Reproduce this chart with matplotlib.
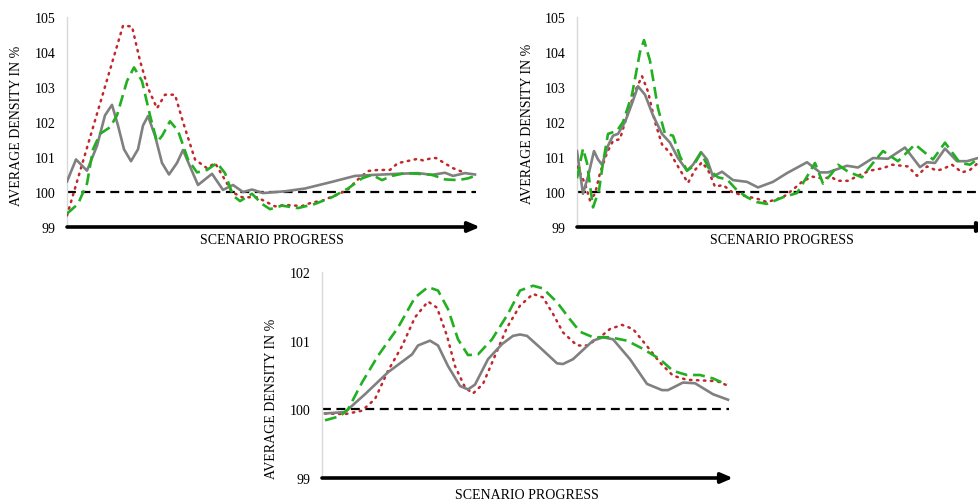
import matplotlib
matplotlib.use("Agg")
import matplotlib.pyplot as plt

plt.rcParams['font.family'] = ['Liberation Serif', 'DejaVu Serif']

# ---------------- data: panel A (top-left) ----------------
a_gray_x = [0, 9, 20, 30, 38, 45, 51, 57, 64, 71, 76, 81, 88, 95, 102, 110, 116, 123, 131, 145, 156, 166, 176, 185, 196,
            218, 238, 265, 288, 308, 331, 351, 365, 378, 386, 398, 408]
a_gray_y = [100.30, 100.93, 100.61, 101.32, 102.19, 102.49, 101.90, 101.22, 100.88, 101.22, 101.90, 102.17, 101.61, 100.83,
            100.50, 100.83, 101.20, 100.73, 100.20, 100.52, 100.06, 100.20, 100.00, 100.07, 99.97,
            100.02, 100.10, 100.29, 100.46, 100.49, 100.52, 100.54, 100.49, 100.55, 100.46, 100.54, 100.50]

a_green_x = [0, 11, 20, 26, 33, 43, 50, 60, 67, 75, 83, 90, 95, 103, 111, 121, 130, 140, 150, 158, 166, 173, 185, 195, 203,
             215, 231, 248, 265, 281, 295, 305, 315, 325, 338, 351, 365, 378, 391, 401, 408]
a_green_y = [99.38, 99.66, 100.24, 101.22, 101.66, 101.85, 102.19, 103.17, 103.56, 103.17, 102.19, 101.43, 101.60, 102.02,
             101.75, 100.93, 100.56, 100.63, 100.83, 100.54, 99.90, 99.74, 99.95, 99.66, 99.51,
             99.61, 99.54, 99.66, 99.85, 100.10, 100.39, 100.49, 100.34, 100.46, 100.54, 100.52, 100.49, 100.36, 100.34,
             100.39, 100.46]

a_red_x = [0, 56, 65, 73, 81, 90, 98, 108, 116, 128, 140, 148, 156, 165, 175, 190, 208, 218, 235, 245, 255, 268, 280,
           291, 301, 311, 323, 331, 335, 351, 356, 365, 369, 386, 395]
a_red_y = [99.33, 104.75, 104.73, 103.75, 102.97, 102.39, 102.78, 102.78, 102.00, 100.93, 100.68, 100.83, 100.44, 100.00,
           99.85, 99.85, 99.59, 99.63, 99.60, 99.70, 99.75, 99.90, 100.05, 100.36, 100.60, 100.63, 100.63, 100.83,
           100.85, 100.95, 100.90, 100.97, 100.97, 100.68, 100.58]

# ---------------- data: panel B (top-right) ----------------
b_gray_x = [0, 6, 11, 17, 21, 25, 31, 36, 41, 48, 55, 61, 68, 76, 85, 93, 101, 110, 116, 124, 130, 136, 145, 156, 170,
            181, 196, 210, 230, 243, 251, 270, 281, 296, 311, 328, 343, 350, 358, 368, 380, 390, 401, 410]
b_gray_y = [101.17, 99.95, 100.44, 101.17, 100.93, 100.78, 101.32, 101.61, 101.66, 102.00, 102.53, 103.02, 102.78, 102.19,
            101.66, 101.41, 100.97, 100.61, 100.78, 101.14, 100.93, 100.44, 100.58, 100.34, 100.29,
            100.13, 100.29, 100.54, 100.85, 100.56, 100.56, 100.75, 100.70, 100.97, 100.95, 101.27, 100.71, 100.85,
            100.83, 101.24, 100.88, 100.88, 100.97, 101.00]

b_green_x = [0, 6, 10, 16, 22, 26, 31, 40, 46, 55, 63, 67, 73, 81, 88, 96, 103, 110, 116, 124, 133, 141, 150, 160, 170,
             180, 190, 206, 220, 230, 238, 246, 255, 261, 271, 285, 296, 306, 321, 338, 356, 368, 383, 393, 401, 410]
b_green_y = [100.39, 101.24, 100.83, 99.56, 100.05, 100.83, 101.66, 101.75, 102.00, 102.78, 104.00, 104.34, 103.75, 102.39,
             101.66, 101.61, 101.02, 100.61, 100.73, 101.12, 100.61, 100.42, 100.36, 100.05, 99.85,
             99.71, 99.66, 99.85, 99.97, 100.44, 100.83, 100.24, 100.54, 100.78, 100.58, 100.42, 100.83, 101.17,
             100.88, 101.36, 100.93, 101.41, 100.83, 100.78, 100.95, 101.00]

b_red_x = [0, 8, 13, 18, 23, 30, 36, 43, 50, 58, 65, 71, 78, 85, 93, 103, 111, 118, 125, 131, 138, 146, 155, 166, 181,
           190, 206, 216, 225, 235, 245, 255, 260, 271, 283, 293, 306, 315, 331, 340, 350, 360, 366, 375, 385, 393, 401, 410]
b_red_y = [100.73, 100.24, 99.76, 99.95, 100.54, 101.12, 101.46, 101.51, 102.19, 102.87, 103.31, 102.87, 102.00, 101.36,
           101.12, 100.63, 100.26, 100.63, 100.85, 100.63, 100.15, 100.20, 100.00, 99.90, 99.80,
           99.71, 99.85, 100.07, 100.29, 100.44, 100.39, 100.42, 100.32, 100.32, 100.49, 100.61, 100.68, 100.78,
           100.73, 100.46, 100.73, 100.61, 100.66, 100.78, 100.56, 100.63, 100.83, 100.85]

# ---------------- data: panel C (bottom) ----------------
c_gray_x = [3, 23, 43, 66, 90, 96, 108, 116, 126, 138, 146, 153, 166, 180, 191, 198, 205, 218, 235, 241, 251, 271, 281,
            291, 308, 325, 340, 346, 361, 373, 391, 406]
c_gray_y = [99.94, 99.96, 100.22, 100.54, 100.80, 100.93, 101.00, 100.93, 100.63, 100.34, 100.29, 100.36, 100.73, 100.95,
            101.07, 101.09, 101.07, 100.90, 100.67, 100.66, 100.73, 101.00, 101.05, 101.02, 100.73, 100.37, 100.28,
            100.28, 100.39, 100.38, 100.22, 100.14]

c_green_x = [3, 18, 26, 40, 56, 76, 93, 106, 116, 126, 136, 146, 156, 170, 186, 198, 211, 221, 235, 248, 258, 271, 288,
             305, 321, 338, 351, 365, 378, 391, 405]
c_green_y = [99.84, 99.90, 100.00, 100.39, 100.78, 101.19, 101.63, 101.78, 101.73, 101.46, 101.02, 100.79, 100.80, 101.02,
             101.39, 101.73, 101.80, 101.76, 101.56, 101.31, 101.13, 101.05, 101.05, 101.00, 100.88, 100.73, 100.56,
             100.50, 100.50, 100.45, 100.36]

c_red_x = [3, 23, 40, 53, 66, 80, 93, 106, 115, 125, 133, 143, 151, 161, 173, 185, 198, 211, 221, 231, 241, 255, 265,
           278, 288, 300, 311, 325, 338, 351, 365, 381, 395, 405]
c_red_y = [99.94, 99.93, 99.98, 100.15, 100.56, 100.92, 101.34, 101.57, 101.48, 101.07, 100.63, 100.32, 100.23, 100.37,
           100.78, 101.19, 101.51, 101.68, 101.63, 101.39, 101.12, 100.93, 100.93, 101.05, 101.17, 101.23, 101.17,
           100.92, 100.68, 100.49, 100.43, 100.42, 100.41, 100.35]

yticks_top = [99, 100, 101, 102, 103, 104, 105]
yticks_bottom = [99, 100, 101, 102]
baseline = 100

GRAY = '#808080'
GREEN = '#22b022'
RED = '#c0282d'

W, H = 979, 502
fig = plt.figure(figsize=(W / 100, H / 100), dpi=100)


def make_panel(left_px, right_px, top_px, bottom_px, xmax, ylim, yticks, series, base_end):
    ax = fig.add_axes([left_px / W, 1 - bottom_px / H, (right_px - left_px) / W, (bottom_px - top_px) / H])
    ax.set_xlim(0, xmax)
    ax.set_ylim(*ylim)
    ax.set_yticks(yticks)
    ax.set_xticks([])
    ax.tick_params(axis='y', length=0, pad=8.5, labelsize=10)
    for s in ['top', 'right', 'bottom']:
        ax.spines[s].set_visible(False)
    ax.spines['left'].set_color('#d9d9d9')
    ax.spines['left'].set_linewidth(1.0)
    ax.plot([0, base_end], [baseline, baseline], color='black', lw=1.6, ls=(0, (4, 2.5)), zorder=2)
    gx, gy, grx, gry, rx, ry = series
    ax.plot(rx, ry, color=RED, lw=1.8, ls=(0, (0.6, 2.2)), dash_capstyle='round', zorder=3)
    ax.plot(gx, gy, color=GRAY, lw=1.9, zorder=4)
    ax.plot(grx, gry, color=GREEN, lw=1.9, ls=(0, (4.5, 2.2)), zorder=5)
    ax.annotate('', xy=(1, 0), xytext=(0, 0), xycoords='axes fraction',
                arrowprops=dict(arrowstyle='-|>,head_length=0.7,head_width=0.3', lw=2.6, color='black',
                                shrinkA=0, shrinkB=0), annotation_clip=False)
    return ax


make_panel(67, 480, 18, 228, 413, (99, 105), yticks_top,
           (a_gray_x, a_gray_y, a_green_x, a_green_y, a_red_x, a_red_y), 409)
make_panel(577, 990, 18, 228, 413, (99, 105), yticks_top,
           (b_gray_x, b_gray_y, b_green_x, b_green_y, b_red_x, b_red_y), 413)
make_panel(322, 733, 273, 479, 411, (99, 102), yticks_bottom,
           (c_gray_x, c_gray_y, c_green_x, c_green_y, c_red_x, c_red_y), 407)

def ftext(x, y, s, **kw):
    fig.text(x / W, 1 - y / H, s, ha='center', va='center', fontsize=10, **kw)

ftext(17, 126, 'AVERAGE DENSITY IN %', rotation=90)
ftext(528, 124, 'AVERAGE DENSITY IN %', rotation=90)
ftext(272, 399, 'AVERAGE DENSITY IN %', rotation=90)
ftext(272, 241, 'SCENARIO PROGRESS')
ftext(782, 241, 'SCENARIO PROGRESS')
ftext(527, 496, 'SCENARIO PROGRESS')

fig.savefig('out.png', dpi=100)
